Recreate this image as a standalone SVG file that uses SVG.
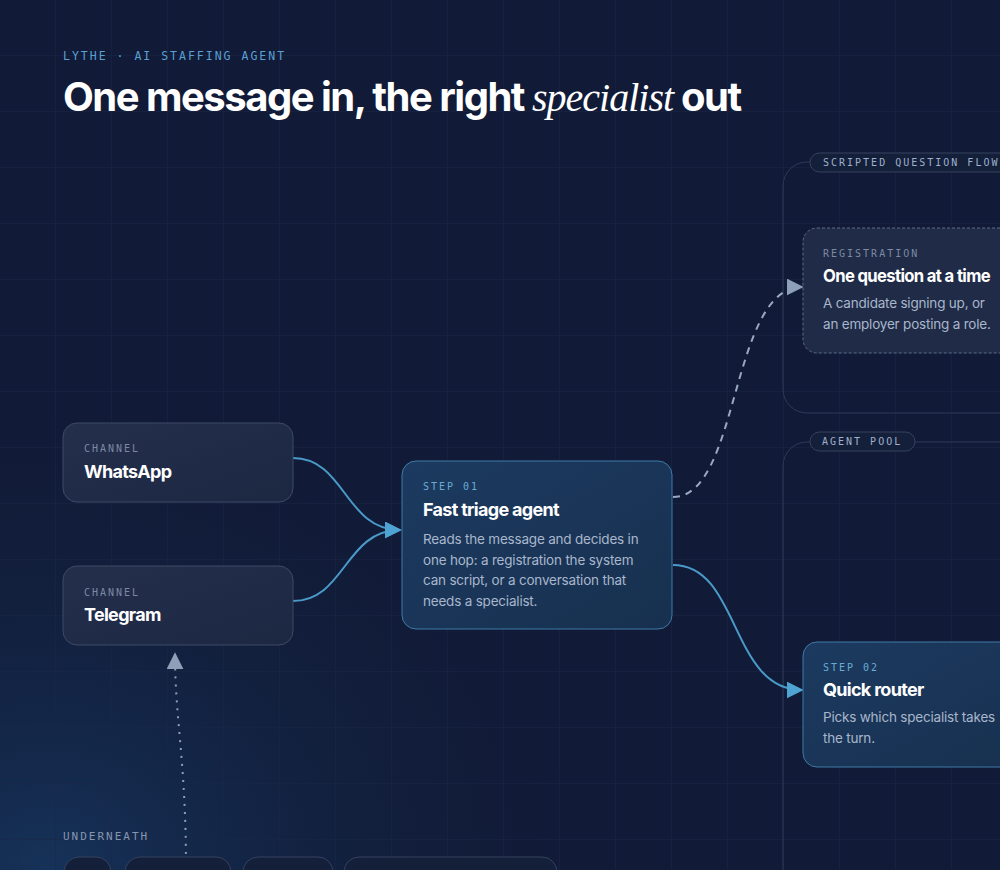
<svg xmlns="http://www.w3.org/2000/svg" width="1000" height="870" viewBox="0 0 1000 870">
<defs>
<radialGradient id="bgGlow" cx="0.05" cy="1" r="0.55"><stop offset="0" stop-color="#163259"/><stop offset="1" stop-color="#111c38" stop-opacity="0"/></radialGradient>
<pattern id="grid" width="56" height="56" patternUnits="userSpaceOnUse"><path d="M56 0V56M0 56H56" fill="none" stroke="#1a2646" stroke-width="1"/></pattern>
<linearGradient id="chan" x1="0" y1="0" x2="1" y2="1"><stop offset="0" stop-color="#242f4c"/><stop offset="1" stop-color="#1c2742"/></linearGradient>
<linearGradient id="step" x1="0" y1="0" x2="1" y2="1"><stop offset="0" stop-color="#1c3a60"/><stop offset="1" stop-color="#17304f"/></linearGradient>
<marker id="arB" viewBox="0 0 10 10" refX="9" refY="5" markerWidth="17" markerHeight="17" markerUnits="userSpaceOnUse" orient="auto"><path d="M0 0L10 5L0 10Z" fill="#4fa3d4"/></marker>
<marker id="arG" viewBox="0 0 10 10" refX="9" refY="5" markerWidth="17" markerHeight="17" markerUnits="userSpaceOnUse" orient="auto"><path d="M0 0L10 5L0 10Z" fill="#8e9fba"/></marker>
<style>
.mono{font-family:"DejaVu Sans Mono","Liberation Mono",monospace;letter-spacing:2px}
.sans{font-family:Inter,"Liberation Sans",sans-serif}
.chan{fill:url(#chan);stroke:#3d4a66;stroke-width:1}
.stepbox{fill:url(#step);stroke:#3f7aa6;stroke-width:1}
.kick{font-size:10px;fill:#7d89a3}
.kickb{font-size:10px;fill:#6aaad6}
.title{font-size:18px;font-weight:700;fill:#ffffff;letter-spacing:-0.7px}
.body{font-size:13.5px;fill:#a9b6cc;letter-spacing:-0.2px}
.cont{fill:none;stroke:#2c3a58;stroke-width:1}
.pill{fill:#141f3a;stroke:#34425f;stroke-width:1}
.pilltxt{font-size:10px;fill:#9fb0cc}
</style>
</defs>
<rect width="1000" height="870" fill="#111b37"/>
<rect width="1000" height="870" fill="url(#bgGlow)"/>
<rect width="1000" height="870" fill="url(#grid)"/>

<text x="63" y="60" class="mono" font-size="11.5" fill="#5b9fd2">LYTHE · AI STAFFING AGENT</text>
<text x="63" y="111" class="sans" font-size="40" font-weight="700" fill="#ffffff" letter-spacing="-1.5">One message in, the right <tspan font-family="'Liberation Serif',serif" font-style="italic" font-weight="400" letter-spacing="-1">specialist</tspan> out</text>

<g id="scripted-flow">
<rect x="783" y="162" width="260" height="251" rx="24" class="cont"/>
<rect x="810" y="153" width="210" height="19" rx="9.5" class="pill"/>
<text x="823" y="166" class="mono pilltxt">SCRIPTED QUESTION FLOW</text>
</g>
<g id="agent-pool">
<rect x="783" y="442" width="260" height="460" rx="24" class="cont"/>
<rect x="810" y="432" width="105" height="19" rx="9.5" class="pill"/>
<text x="822" y="445" class="mono pilltxt">AGENT POOL</text>
</g>

<g id="connectors" fill="none">
<path d="M293 458 C345 458 345 530 400 530" stroke="#4a9ac9" stroke-width="2" marker-end="url(#arB)"/>
<path d="M293 601 C345 601 345 530 400 530" stroke="#4a9ac9" stroke-width="2" marker-end="url(#arB)"/>
<path d="M673 497 C740 497 730 287 802 287" stroke="#9aa9c2" stroke-width="2" stroke-dasharray="7 6" marker-end="url(#arG)"/>
<path d="M673 565 C740 565 730 690 802 690" stroke="#4a9ac9" stroke-width="2" marker-end="url(#arB)"/>
<path d="M186 870 C186 760 175 720 175 654" stroke="#8e9fba" stroke-width="2" stroke-dasharray="2 6" marker-end="url(#arG)"/>
</g>

<g id="whatsapp">
<rect x="63" y="423" width="230" height="79" rx="14" class="chan"/>
<text x="84" y="452" class="mono kick">CHANNEL</text>
<text x="84" y="478" class="sans title">WhatsApp</text>
</g>
<g id="telegram">
<rect x="63" y="566" width="230" height="79" rx="14" class="chan"/>
<text x="84" y="596" class="mono kick">CHANNEL</text>
<text x="84" y="621" class="sans title">Telegram</text>
</g>
<g id="step01">
<rect x="402" y="461" width="270" height="168" rx="14" class="stepbox"/>
<text x="423" y="490" class="mono kickb">STEP 01</text>
<text x="423" y="516" class="sans title">Fast triage agent</text>
<text x="423" y="544" class="sans body">Reads the message and decides in</text>
<text x="423" y="565" class="sans body">one hop: a registration the system</text>
<text x="423" y="585" class="sans body">can script, or a conversation that</text>
<text x="423" y="606" class="sans body">needs a specialist.</text>
</g>
<g id="registration">
<rect x="803" y="228" width="230" height="125" rx="14" fill="#1f2b47" stroke="#5d6c88" stroke-width="1" stroke-dasharray="3 2"/>
<text x="823" y="257" class="mono kick" fill="#8e9bb4">REGISTRATION</text>
<text x="823" y="282" class="sans title" font-size="16" letter-spacing="-0.6" textLength="167" lengthAdjust="spacingAndGlyphs">One question at a time</text>
<text x="823" y="308" class="sans body">A candidate signing up, or</text>
<text x="823" y="329" class="sans body">an employer posting a role.</text>
</g>
<g id="step02">
<rect x="803" y="642" width="230" height="125" rx="14" class="stepbox"/>
<text x="823" y="671" class="mono kickb">STEP 02</text>
<text x="823" y="696" class="sans title" font-size="17">Quick router</text>
<text x="823" y="722" class="sans body">Picks which specialist takes</text>
<text x="823" y="743" class="sans body">the turn.</text>
</g>

<g id="underneath">
<text x="63" y="840" class="mono" font-size="11" fill="#8795b0">UNDERNEATH</text>
<rect x="64" y="857" width="47" height="30" rx="15" class="pill"/>
<rect x="125" y="857" width="106" height="30" rx="15" class="pill"/>
<rect x="243" y="857" width="90" height="30" rx="15" class="pill"/>
<rect x="344" y="857" width="213" height="30" rx="15" class="pill"/>
</g>
</svg>
